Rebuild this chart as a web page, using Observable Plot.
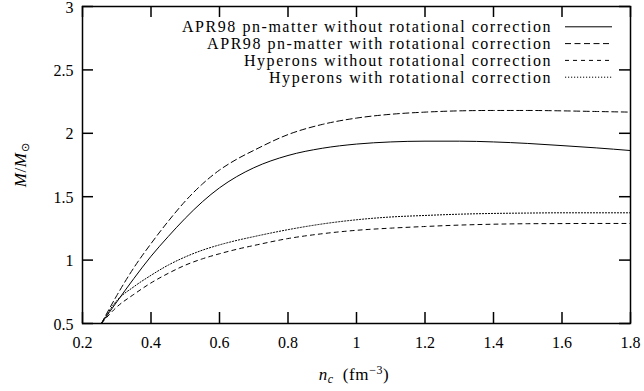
<!DOCTYPE html>
<html><head><meta charset="utf-8">
<script src="https://cdn.jsdelivr.net/npm/d3@7"></script>
<script src="https://cdn.jsdelivr.net/npm/@observablehq/plot@0.6"></script>
<style>
body{margin:0;background:#fff}
#chart{position:relative;width:644px;height:391px}
#overlay{position:absolute;left:0;top:0;pointer-events:none}
</style>
</head><body><div id="chart"></div>
<script>
const nc =        [0.255, 0.3,  0.35,  0.4,   0.45,  0.5,   0.55,  0.6,   0.65,  0.7,   0.8,   0.9,   1.0,   1.1,   1.2,   1.3,   1.4,   1.5,   1.6,   1.7,   1.8];
const aprNoRot =  [0.5,   0.67, 0.855, 1.03,  1.185, 1.33,  1.46,  1.57,  1.658, 1.728, 1.825, 1.882, 1.915, 1.932, 1.938, 1.938, 1.932, 1.92,  1.903, 1.885, 1.864];
const aprRot =    [0.5,   0.72, 0.94,  1.13,  1.305, 1.465, 1.60,  1.71,  1.795, 1.865, 1.99,  2.07,  2.12,  2.15,  2.167, 2.177, 2.18,  2.18,  2.177, 2.172, 2.167];
const hypNoRot =  [0.5,   0.63, 0.73,  0.82,  0.895, 0.96,  1.01,  1.05,  1.085, 1.115, 1.17,  1.208, 1.235, 1.252, 1.265, 1.276, 1.283, 1.287, 1.288, 1.289, 1.289];
const hypRot =    [0.5,   0.68, 0.79,  0.88,  0.96,  1.025, 1.078, 1.12,  1.155, 1.185, 1.24,  1.285, 1.318, 1.34,  1.352, 1.362, 1.368, 1.371, 1.373, 1.373, 1.373];
const seriesNames = [
  "APR98 pn-matter without rotational correction",
  "APR98 pn-matter with rotational correction",
  "Hyperons without rotational correction",
  "Hyperons with rotational correction"
];
const seriesValues = [aprNoRot, aprRot, hypNoRot, hypRot];
const xTicks = [0.2, 0.4, 0.6, 0.8, 1, 1.2, 1.4, 1.6, 1.8];
const yTicks = [0.5, 1, 1.5, 2, 2.5, 3];

const dashStyles = ["none", "6,3.5", "4,4", "1.2,1.8"];
const FONT = "Liberation Serif";

const W = 644, H = 391, ML = 82, MR = 14, MT = 6, MB = 68;
const PW = W - ML - MR, PH = H - MT - MB, TL = 11;

const rows = seriesNames.flatMap((s, i) => nc.map((n, j) => ({series: s, n, m: seriesValues[i][j]})));

const lines = seriesNames.map((s, i) => Plot.line(rows.filter(d => d.series === s), {
  x: "n", y: "m", stroke: "#000", strokeWidth: 1, curve: "monotone-x", strokeDasharray: dashStyles[i]
}));

const fmt = d => String(d);
const plot = Plot.plot({
  width: W, height: H, marginLeft: ML, marginRight: MR, marginTop: MT, marginBottom: MB,
  style: {fontFamily: FONT, fontSize: "16px", color: "#000", background: "#fff"},
  x: {domain: [0.2, 1.8]}, y: {domain: [0.5, 3]},
  marks: [
    Plot.axisX({anchor: "bottom", ticks: xTicks, tickFormat: fmt, tickSize: 0, tickPadding: 13, label: null}),
    Plot.axisY({anchor: "left", ticks: yTicks, tickFormat: fmt, tickSize: 0, tickPadding: 9, dy: 1, label: null}),
    Plot.tickX(xTicks, {x: d => d, stroke: "#000", strokeWidth: 1.5, insetTop: PH - TL}),
    Plot.tickX(xTicks, {x: d => d, stroke: "#000", strokeWidth: 1.5, insetBottom: PH - TL}),
    Plot.tickY(yTicks, {y: d => d, stroke: "#000", strokeWidth: 1.5, insetRight: PW - TL}),
    Plot.tickY(yTicks, {y: d => d, stroke: "#000", strokeWidth: 1.5, insetLeft: PW - TL}),
    ...lines,
    Plot.frame({stroke: "#000", strokeWidth: 1.5})
  ]
});
const chart = document.getElementById("chart");
chart.appendChild(plot);

// Overlay for legend and axis titles (kept outside Plot's own SVG)
const ov = d3.create("svg").attr("id", "overlay").attr("width", W).attr("height", H)
  .attr("font-family", FONT).attr("font-size", 16).attr("fill", "#000");
chart.appendChild(ov.node());

const texts = seriesNames.map((s, i) => {
  const yb = 32.3 + i * 16.8;
  const t = ov.append("text").attr("x", 552).attr("y", yb).attr("text-anchor", "end").text(s);
  ov.append("line").attr("x1", 565).attr("x2", 612).attr("y1", yb - 5.5).attr("y2", yb - 5.5)
    .attr("stroke", "#000").attr("stroke-width", 1).attr("stroke-dasharray", dashStyles[i]);
  return t;
});
const w0 = texts[0].node().getComputedTextLength();
const ls = Math.max(0, Math.min(3, (370 - w0) / seriesNames[0].length));
texts.forEach(t => t.attr("letter-spacing", ls));

const xl = ov.append("text").attr("x", 354).attr("y", 380).attr("text-anchor", "middle")
  .attr("font-size", 17).attr("letter-spacing", 0.6);
xl.append("tspan").attr("font-style", "italic").text("n");
xl.append("tspan").attr("font-style", "italic").attr("font-size", 12).attr("dy", 3).text("c");
xl.append("tspan").attr("dy", -3).text("\u2002(fm");
xl.append("tspan").attr("font-size", 12).attr("dy", -6).text("\u22123");
xl.append("tspan").attr("dy", 6).text(")");

const yl = ov.append("text").attr("transform", "translate(26,165) rotate(-90)").attr("text-anchor", "middle")
  .attr("font-size", 17).attr("letter-spacing", 0.6);
yl.append("tspan").attr("font-style", "italic").text("M");
yl.append("tspan").text("/");
yl.append("tspan").attr("font-style", "italic").text("M");
yl.append("tspan").attr("font-size", 11).attr("dy", 3).text("\u2299");
</script>
</body></html>
